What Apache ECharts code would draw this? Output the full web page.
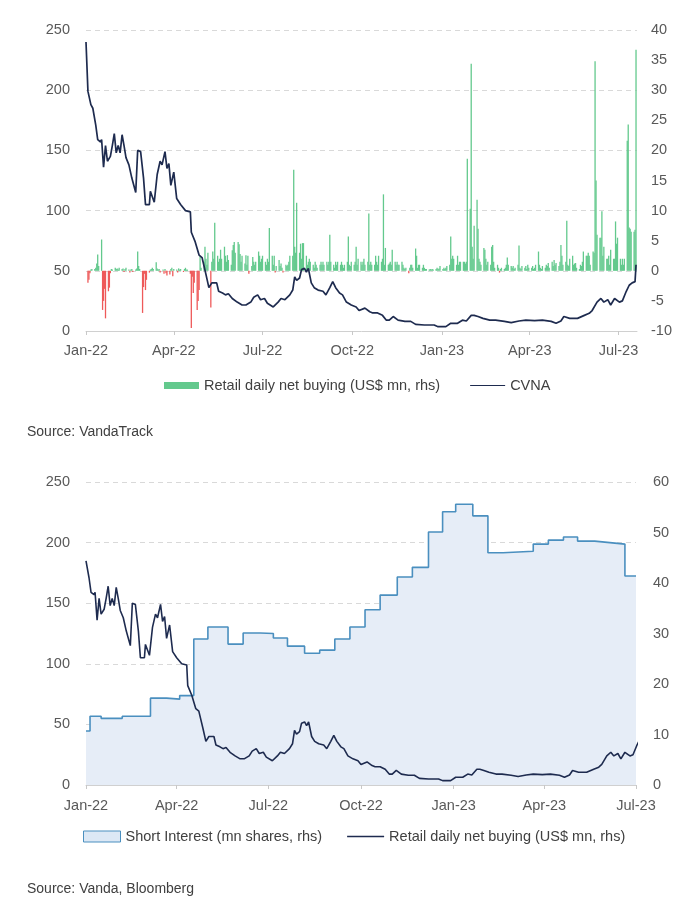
<!DOCTYPE html>
<html>
<head>
<meta charset="utf-8">
<script src="https://cdn.jsdelivr.net/npm/echarts@6/dist/echarts.min.js"></script>
<style>html,body{margin:0;padding:0;background:#fff}#c{width:700px;height:914px}</style>
</head>
<body>
<div id="c"></div>
<script>
// ---------- axis ticks ----------
const xTickDates = ['2022-01-01','2022-04-01','2022-07-01','2022-10-01','2023-01-01','2023-04-01','2023-07-01'];
const xTickLabels = ['Jan-22','Apr-22','Jul-22','Oct-22','Jan-23','Apr-23','Jul-23'];

// ---------- CVNA price (US$) ----------
const cvnaDates = ['2022-01-01','2022-01-03','2022-01-06','2022-01-08','2022-01-11','2022-01-13','2022-01-16','2022-01-17','2022-01-19','2022-01-21',
'2022-01-23','2022-01-26','2022-01-28','2022-01-30','2022-02-01','2022-02-03','2022-02-05','2022-02-07','2022-02-09','2022-02-11',
'2022-02-14','2022-02-17','2022-02-21','2022-02-23','2022-02-26','2022-03-01','2022-03-03','2022-03-07','2022-03-08','2022-03-12',
'2022-03-15','2022-03-18','2022-03-20','2022-03-23','2022-03-25','2022-03-27','2022-03-29','2022-04-01','2022-04-04','2022-04-08',
'2022-04-13','2022-04-18','2022-04-19','2022-04-23','2022-04-27','2022-04-30','2022-05-04','2022-05-07','2022-05-10','2022-05-15',
'2022-05-17','2022-05-21','2022-05-24','2022-05-27','2022-05-31','2022-06-05','2022-06-10','2022-06-14','2022-06-19','2022-06-22',
'2022-06-26','2022-06-29','2022-07-03','2022-07-06','2022-07-12','2022-07-17','2022-07-20','2022-07-24','2022-07-29','2022-08-01',
'2022-08-03','2022-08-05','2022-08-08','2022-08-10','2022-08-13','2022-08-15','2022-08-17','2022-08-20','2022-08-23','2022-08-27',
'2022-09-01','2022-09-04','2022-09-08','2022-09-11','2022-09-14','2022-09-18','2022-09-21','2022-09-25','2022-09-30','2022-10-05',
'2022-10-08','2022-10-14','2022-10-19','2022-10-22','2022-10-27','2022-11-01','2022-11-05','2022-11-08','2022-11-12','2022-11-17',
'2022-11-24','2022-11-30','2022-12-05','2022-12-14','2022-12-24','2022-12-28','2023-01-05','2023-01-10','2023-01-17','2023-01-22',
'2023-01-26','2023-01-31','2023-02-03','2023-02-07','2023-02-12','2023-02-19','2023-02-25','2023-03-06','2023-03-13','2023-03-21',
'2023-03-28','2023-04-06','2023-04-14','2023-04-23','2023-04-28','2023-05-03','2023-05-06','2023-05-12','2023-05-20','2023-05-27',
'2023-06-01','2023-06-04','2023-06-09','2023-06-13','2023-06-16','2023-06-20','2023-06-23','2023-06-27','2023-07-02','2023-07-05',
'2023-07-09','2023-07-12','2023-07-15','2023-07-18','2023-07-19'];
const cvnaPrice = [240,199,188,185,171,159,157,159,136,154,
141,145,154,164,148,154,148,163,154,144,
138,127,115,150,149,127,105,105,116,107,
130,141,138,149,135,139,121,132,110,105,
100,99,82,74,63,61,47,36,40,40,
33,31.5,30,31,27,24,21.6,21.6,24,28,
30,26,27,23,20,24,27,26,30,34,
45,42,44,51,52,49,52,40,36,34,
33,30,36,41,36,31.5,30,24,21.6,20,
17,19,16,15,15,13,9,9,12,9,
8,8,5.5,5,5,3.6,3.6,6.4,6.4,9,
8.3,13,13,12,10.5,9,9,8,7,8.3,
9,8.6,9,8,6.4,8.3,12,10.5,10.5,13,
14.7,17,24,27,24,26,21.6,27,24,25,
33,38,40,41,55];

// ---------- Retail daily net buying (US$ mn), one value per weekday ----------
const nb2022_01 = [-2,-1.5,-0.4,0.2,0.3, 0.3,0.5,1.2,2.7,0.8, 5.2,-6.5,-5,-3,-7.9, -3.4,-2.8,-0.4,0.3,0.2, 0.5];
const nb2022_02 = [0.3,0.4,0.2,0.5, 0.3,0.4,-0.2,0.3,0.5, 0.2,-0.3,0.2,0.3,-0.2, 0.2,0.4,3.2,0.8,0.3, -7];
const nb2022_03 = [-2.7,-0.5,-3.2,-1.5, -0.3,0.2,0.3,0.5,0.3, 1.4,0.4,0.2,0.3,-0.3, 0.2,-0.5,0.3,-0.4,-0.8, -0.6,0.3,0.5,-0.9];
const nb2022_04 = [0.3, 0.2,-0.3,0.4,0.2,0.3, -0.2,0.3,0.5,0.2,0.2, -0.5,-9.5,-1,-3.7,-2, -6.5,-5,-3.2,2.4,0.5];
const nb2022_05 = [1.5,4,2,1,3, -6.1,1.5,3.2,2,8, 2.5,1.5,2,3.5,2, 4,2.5,1.5,2.6,1.8, 1,3.4];
const nb2022_06 = [4.3,4.8,3, 4.8,4.4,2.8,1.5,2.5, 1.2,2.6,1,2.5,-0.5, 0.8,2.3,1.5,1,1.5, 3.2,2.5,1.5,2];
const nb2022_07 = [2.5, 1.5,1,2,1.5,7.1, 2.5,1,2.5,-0.3,0.8, 1.8,0.8,1.2,0.5,-0.3, 1,0.8,1,1.5,2.5];
const nb2022_08 = [2.5,16.8,4,3,11.3, 3,4.5,2,4.6,4.6, 2.5,1,1.5,2,1.5, 1,0.5,1.5,1,0.5, 1,1.5,1];
const nb2022_09 = [1.5,1, 1.5,1,1.5,6,1.5, 1,0.5,1.5,1,1.5, 1,1.5,1,0.5,1, 1.5,5.7,1,0.8,1.5];
const nb2022_10 = [1,1.5,4,1,2, 1.5,1,1.5,2,1, 1.5,9.5,1,1.5,1, 1,2.5,1.5,1,2.5, 1.5];
const nb2022_11 = [2,12.7,1,3.8, 1,1.2,1.5,1,3.5, 1.5,1,1.5,1,1, 1.5,1,0.5,0.3,0.5, -0.4,0.5,1];
const nb2022_12 = [1,0.5, 3.7,2.5,0.5,1,1, 0.5,1,0.5,0.3,0.3, 0.2,0.3,0.2,0.3,0.2, 0.3,0.5,0.3,0.4,0.8];
const nb2023_01 = [0.3,0.5,0.3,0.5,0.8, 1,5.7,2,2.5,2, 1,2.5,1,1.5,1.5, 1.5,1.5,1.2,1.5,18.6, 10.3,34.4];
const nb2023_02 = [4,2,7.5, 11.8,7,2,1.5,1, 3.8,3.5,2,1,1.5, 1,4,4.3,1.5,0.5, 1,0.5];
const nb2023_03 = [-0.3,0.3,0.5, 0.3,0.5,1,2.2,1, 0.8,0.5,0.8,0.3,0.5, 1,4.2,0.5,0.3,0.8, 0.5,0.8,0.3,1,0.5];
const nb2023_04 = [0.5,0.8,0.3,0.5,1, 3.2,1,0.5,0.3,0.8, 0.5,1,0.8,1.3,0.5, 1.5,0.8,1.8,1,1.3];
const nb2023_05 = [0.8,1.5,4.3,2.5,1, 1.5,8.3,1,0.8,2, 2.5,1,1.2,1.3,0.5, 0.3,1,0.8,1.5,3.2, 2.5,2.5,3];
const nb2023_06 = [2.5,1, 3.2,3,34.8,15,6, 5.5,5.5,9.9,2.5,4, 2,2,2.5,1,3.5, 2,2,8.2,4.5,5.5];
const nb2023_07 = [2,1,2,1,2, 21.6,24.3,7.2,7,6.5, 6.5,6.8,36.7];

// ---------- Short interest (mn shares) ----------
const siDates = ['2022-01-01','2022-01-05','2022-01-16','2022-02-06','2022-03-06','2022-03-22','2022-04-04','2022-04-18','2022-05-02','2022-05-22',
'2022-06-06','2022-06-23','2022-07-06','2022-07-20','2022-08-06','2022-08-21','2022-09-05','2022-09-20','2022-10-05','2022-10-20',
'2022-11-06','2022-11-21','2022-12-07','2022-12-21','2023-01-03','2023-01-20','2023-02-04','2023-02-19','2023-03-21','2023-04-05',
'2023-04-20','2023-05-04','2023-05-21','2023-06-05','2023-06-20','2023-07-01'];
const siValues = [10.7,13.6,13.2,13.6,17.2,17.0,17.7,28.9,31.3,27.9,
30.1,30.0,29.1,27.5,26.1,26.7,28.9,31.3,34.7,37.6,
41.2,43.1,50.1,54.1,55.6,53.3,46.0,46.3,47.7,48.5,
49.1,48.3,48.0,47.7,41.4,41.4];

// date offset of the price line in the lower panel, as drawn in the source
const lowerPanelShiftDays = -7;

// ---------- build ----------
const DAY = 86400000;
const ts = s => { const p = s.split('-').map(Number); return Date.UTC(p[0], p[1]-1, p[2]); };
const tickTs = xTickDates.map(ts);
const labelOf = v => { const i = tickTs.indexOf(v); return i >= 0 ? xTickLabels[i] : ''; };

const nbMonths = [['2022-01',nb2022_01],['2022-02',nb2022_02],['2022-03',nb2022_03],['2022-04',nb2022_04],['2022-05',nb2022_05],
['2022-06',nb2022_06],['2022-07',nb2022_07],['2022-08',nb2022_08],['2022-09',nb2022_09],['2022-10',nb2022_10],['2022-11',nb2022_11],
['2022-12',nb2022_12],['2023-01',nb2023_01],['2023-02',nb2023_02],['2023-03',nb2023_03],['2023-04',nb2023_04],['2023-05',nb2023_05],
['2023-06',nb2023_06],['2023-07',nb2023_07]];
const barData = [];
nbMonths.forEach(([ym, vals]) => {
  const p = ym.split('-').map(Number);
  let i = 0;
  for (let d = 1; d <= 31 && i < vals.length; d++) {
    const t = Date.UTC(p[0], p[1]-1, d);
    const dt = new Date(t);
    if (dt.getUTCMonth() !== p[1]-1) break;
    const wd = dt.getUTCDay();
    if (wd === 0 || wd === 6) continue;
    barData.push([t, vals[i++]]);
  }
});

const cvnaTop = cvnaDates.map((d, i) => [ts(d), cvnaPrice[i]]);
const xMin = ts('2022-01-01');
const cvnaBottom = cvnaDates.map((d, i) => [ts(d) + lowerPanelShiftDays * DAY, cvnaPrice[i]]).filter(p => p[0] >= xMin);
const siData = siDates.map((d, i) => [ts(d), siValues[i]]);

const GREEN = '#63c98d', RED = '#ee5a5a', NAVY = '#1e2b4f', SIBLUE = '#4a8fbf', SIFILL = '#e6edf7';
const FONT = 'Liberation Sans';
const axisLbl = { color: '#595959', fontSize: 14.5, fontFamily: FONT };
const BAR_NAME = 'Retail daily net buying (US$ mn, rhs)';
const LINE_ICON = 'path://M0,0 H70 V2.4 H0 Z';

function xAxisCfg(grid, max, margin) {
  return {
    type: 'value', gridIndex: grid, min: xMin, max: ts(max), scale: false,
    axisLine: { onZero: false, lineStyle: { color: '#d0d0d0', width: 1 } },
    axisTick: { show: true, customValues: tickTs, length: 4, lineStyle: { color: '#c8c8c8' } },
    axisLabel: Object.assign({ customValues: tickTs, margin: margin, formatter: v => labelOf(v) }, axisLbl),
    splitLine: { show: false }
  };
}
function yAxisCfg(grid, pos, min, max, interval, split, margin) {
  return {
    type: 'value', gridIndex: grid, position: pos, min: min, max: max, interval: interval,
    axisLine: { show: false }, axisTick: { show: false },
    axisLabel: Object.assign({ margin: margin }, axisLbl),
    splitLine: { show: split, lineStyle: { color: '#d9d9d9', type: [5, 4], width: 1 } }
  };
}

const chart = echarts.init(document.getElementById('c'), null, { renderer: 'canvas' });
chart.setOption({
  animation: false,
  backgroundColor: '#ffffff',
  title: [
    { text: 'Source: VandaTrack', left: 27, top: 425, padding: 0, textStyle: { fontSize: 14, fontWeight: 'normal', color: '#404040', fontFamily: FONT } },
    { text: 'Source: Vanda, Bloomberg', left: 27, top: 882, padding: 0, textStyle: { fontSize: 14, fontWeight: 'normal', color: '#404040', fontFamily: FONT } }
  ],
  legend: [
    { left: 164, top: 378, padding: 0, itemWidth: 35, itemHeight: 7, itemGap: 30, selectedMode: false, symbolKeepAspect: true,
      textStyle: { fontSize: 14.5, color: '#404040', fontFamily: FONT },
      data: [ { name: BAR_NAME, icon: 'rect', itemStyle: { color: GREEN } },
              { name: 'CVNA', icon: LINE_ICON, itemStyle: { color: NAVY } } ] },
    { left: 83, top: 829, padding: 0, itemWidth: 37, itemHeight: 11, itemGap: 25, selectedMode: false, symbolKeepAspect: true,
      textStyle: { fontSize: 14.5, color: '#404040', fontFamily: FONT },
      formatter: n => n === 'lowerLine' ? 'Retail daily net buying (US$ mn, rhs)' : n,
      data: [ { name: 'Short Interest (mn shares, rhs)', icon: 'rect', itemStyle: { color: '#dce8f5', borderColor: SIBLUE, borderWidth: 1 } },
              { name: 'lowerLine', icon: LINE_ICON, itemStyle: { color: NAVY } } ] }
  ],
  grid: [
    { left: 86, right: 63, top: 30, height: 301 },
    { left: 86, right: 64, top: 482, height: 303 }
  ],
  xAxis: [ xAxisCfg(0, '2023-07-20', 12), xAxisCfg(1, '2023-07-01', 13) ],
  yAxis: [
    yAxisCfg(0, 'left', 0, 250, 50, true, 16),
    yAxisCfg(0, 'right', -10, 40, 5, false, 14),
    yAxisCfg(1, 'left', 0, 250, 50, true, 16),
    yAxisCfg(1, 'right', 0, 60, 10, false, 17)
  ],
  series: [
    { name: BAR_NAME, type: 'bar', xAxisIndex: 0, yAxisIndex: 1, data: barData, barWidth: 1.3,
      itemStyle: { color: p => (p.value[1] < 0 ? RED : GREEN) }, z: 2 },
    { name: 'CVNA', type: 'line', xAxisIndex: 0, yAxisIndex: 0, data: cvnaTop, symbol: 'none',
      lineStyle: { color: NAVY, width: 1.7 }, itemStyle: { color: NAVY }, z: 3 },
    { name: 'Short Interest (mn shares, rhs)', type: 'line', step: 'end', xAxisIndex: 1, yAxisIndex: 3, data: siData, symbol: 'none',
      lineStyle: { color: SIBLUE, width: 1.6 }, itemStyle: { color: SIBLUE }, areaStyle: { color: SIFILL, opacity: 1 }, z: 2 },
    { name: 'lowerLine', type: 'line', xAxisIndex: 1, yAxisIndex: 2, data: cvnaBottom, symbol: 'none',
      lineStyle: { color: NAVY, width: 1.6 }, itemStyle: { color: NAVY }, z: 3 }
  ]
});
</script>
</body>
</html>
